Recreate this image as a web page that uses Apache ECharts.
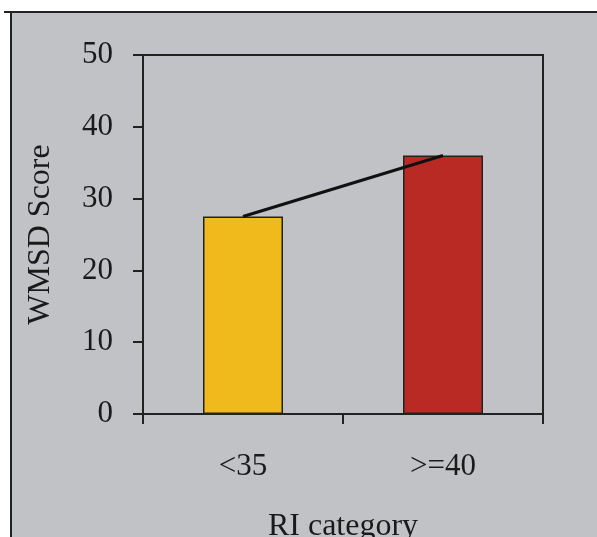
<!DOCTYPE html>
<html><head><meta charset="utf-8">
<script src="https://cdn.jsdelivr.net/npm/echarts@6/dist/echarts.min.js"></script>
<style>html,body{margin:0;padding:0;background:#fff}#c{width:597px;height:537px}</style>
</head><body><div id="c"></div>
<script>
const categories = ['<35', '>=40'];
const scores = [27.5, 36];
const barColors = ['#F0BA1C', '#BA2A25'];
const yTicks = [0, 10, 20, 30, 40, 50];
const xTitle = 'RI category';
const yTitle = 'WMSD Score';

const font = '"Liberation Serif", "Times New Roman", serif';
const chart = echarts.init(document.getElementById('c'), null, {renderer: 'canvas'});
chart.setOption({
  backgroundColor: '#ffffff',
  animation: false,
  graphic: [
    {type: 'rect', z: -10, shape: {x: 11, y: 12, width: 600, height: 540}, style: {fill: '#c1c2c6', stroke: '#222', lineWidth: 2}},
    {type: 'line', z: -9, shape: {x1: 4, y1: 12, x2: 597, y2: 12}, style: {stroke: '#222', lineWidth: 2}}
  ],
  grid: {left: 143, top: 55, right: 54, bottom: 123, outerBoundsMode: 'none', containLabel: false, show: true, borderColor: '#222', borderWidth: 2, backgroundColor: 'transparent'},
  xAxis: {
    type: 'category', data: categories, boundaryGap: true,
    axisLine: {lineStyle: {color: '#222', width: 2}},
    axisTick: {show: true, length: 10, inside: false, lineStyle: {color: '#222', width: 2}},
    axisLabel: {color: '#1a1a1a', fontFamily: font, fontSize: 31, margin: 37},
    name: xTitle, nameLocation: 'middle', nameGap: 97,
    nameTextStyle: {color: '#1a1a1a', fontFamily: font, fontSize: 32}
  },
  yAxis: {
    type: 'value', min: yTicks[0], max: yTicks[yTicks.length - 1], interval: 10,
    splitLine: {show: false},
    axisLine: {show: true, lineStyle: {color: '#222', width: 2}},
    axisTick: {show: true, length: 10, lineStyle: {color: '#222', width: 2}},
    axisLabel: {color: '#1a1a1a', fontFamily: font, fontSize: 31, margin: 30},
    name: yTitle, nameLocation: 'middle', nameGap: 86, nameRotate: 90,
    nameTextStyle: {color: '#1a1a1a', fontFamily: font, fontSize: 32}
  },
  series: [
    {
      type: 'bar', barWidth: '40%',
      data: scores.map((v, i) => ({value: v, itemStyle: {color: barColors[i]}})),
      itemStyle: {borderColor: '#222', borderWidth: 1.5}
    },
    {
      type: 'line', data: scores, symbol: 'none', z: 5,
      lineStyle: {color: '#111', width: 3}
    }
  ]
});
</script></body></html>
